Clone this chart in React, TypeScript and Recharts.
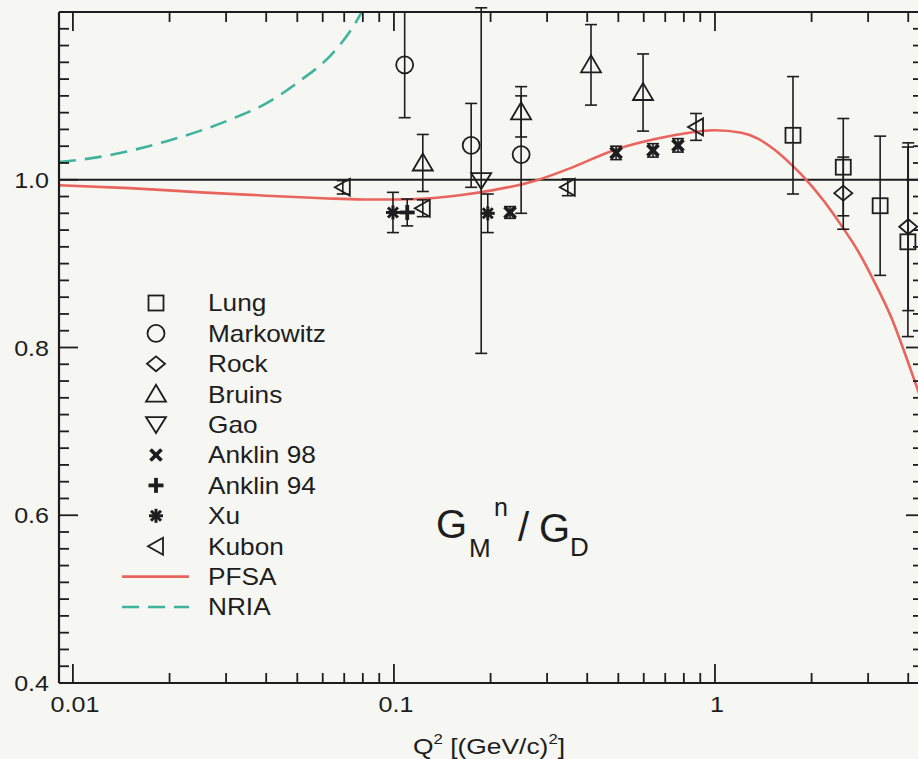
import React from 'react';
import {
  ComposedChart,
  Scatter,
  Line,
  XAxis,
  YAxis,
  ErrorBar,
  ReferenceLine,
  Legend,
  Customized,
} from 'recharts';

type Pt = { q2: number; g: number; err?: number };

// ---- measurements of G_M^n / G_D (Q^2 in (GeV/c)^2) ----
const lung: Pt[] = [
  { q2: 1.75, g: 1.053, err: 0.07 },
  { q2: 2.51, g: 1.015, err: 0.058 },
  { q2: 3.27, g: 0.969, err: 0.083 },
  { q2: 3.99, g: 0.926, err: 0.113 },
];
const markowitz: Pt[] = [
  { q2: 0.108, g: 1.137, err: 0.063 },
  { q2: 0.174, g: 1.041, err: 0.05 },
  { q2: 0.249, g: 1.03, err: 0.07 },
];
const rock: Pt[] = [
  { q2: 2.51, g: 0.984, err: 0.043 },
  { q2: 4.0, g: 0.944, err: 0.1 },
];
const bruins: Pt[] = [
  { q2: 0.123, g: 1.02, err: 0.034 },
  { q2: 0.249, g: 1.081, err: 0.03 },
  { q2: 0.411, g: 1.137, err: 0.048 },
  { q2: 0.597, g: 1.104, err: 0.046 },
];
const gao: Pt[] = [{ q2: 0.187, g: 0.999, err: 0.206 }];
const anklin98: Pt[] = [
  { q2: 0.23, g: 0.961, err: 0.007 },
  { q2: 0.492, g: 1.032, err: 0.008 },
  { q2: 0.641, g: 1.035, err: 0.008 },
  { q2: 0.767, g: 1.041, err: 0.008 },
];
const anklin94: Pt[] = [{ q2: 0.11, g: 0.961, err: 0.016 }];
const xu: Pt[] = [
  { q2: 0.0993, g: 0.961, err: 0.024 },
  { q2: 0.196, g: 0.96, err: 0.023 },
];
const kubon: Pt[] = [
  { q2: 0.0693, g: 0.991, err: 0.008 },
  { q2: 0.123, g: 0.966, err: 0.01 },
  { q2: 0.348, g: 0.991, err: 0.01 },
  { q2: 0.873, g: 1.063, err: 0.016 },
];

// ---- model curves ----
const pfsa: Pt[] = [
  { q2: 0.00905, g: 0.9935 },
  { q2: 0.015, g: 0.99 },
  { q2: 0.025, g: 0.985 },
  { q2: 0.04, g: 0.981 },
  { q2: 0.06, g: 0.978 },
  { q2: 0.08, g: 0.9765 },
  { q2: 0.1, g: 0.9765 },
  { q2: 0.13, g: 0.978 },
  { q2: 0.16, g: 0.9815 },
  { q2: 0.2, g: 0.987 },
  { q2: 0.274, g: 0.9985 },
  { q2: 0.35, g: 1.013 },
  { q2: 0.499, g: 1.037 },
  { q2: 0.641, g: 1.048 },
  { q2: 0.767, g: 1.054 },
  { q2: 1.0, g: 1.059 },
  { q2: 1.21, g: 1.056 },
  { q2: 1.36, g: 1.049 },
  { q2: 1.53, g: 1.036 },
  { q2: 1.73, g: 1.018 },
  { q2: 1.86, g: 1.006 },
  { q2: 2.19, g: 0.974 },
  { q2: 2.48, g: 0.945 },
  { q2: 2.79, g: 0.915 },
  { q2: 3.14, g: 0.878 },
  { q2: 3.54, g: 0.836 },
  { q2: 3.99, g: 0.783 },
  { q2: 4.4, g: 0.737 },
];
const nria: Pt[] = [
  { q2: 0.00905, g: 1.021 },
  { q2: 0.012, g: 1.027 },
  { q2: 0.0196, g: 1.046 },
  { q2: 0.0315, g: 1.073 },
  { q2: 0.04, g: 1.091 },
  { q2: 0.051, g: 1.118 },
  { q2: 0.0645, g: 1.151 },
  { q2: 0.0745, g: 1.182 },
  { q2: 0.085, g: 1.222 },
];

// ---- axes ----
const X_DOMAIN: [number, number] = [0.00905, 4.352];
const Y_DOMAIN: [number, number] = [0.4, 1.2];
const X_MAJOR = [0.01, 0.1, 1];
const X_MINOR = [
  0.02, 0.03, 0.04, 0.05, 0.06, 0.07, 0.08, 0.09,
  0.2, 0.3, 0.4, 0.5, 0.6, 0.7, 0.8, 0.9,
  2, 3, 4,
];
const X_LABELS = ['0.01', '0.1', '1'];
const Y_MAJOR = [0.4, 0.6, 0.8, 1.0, 1.2];
const Y_LABELS = ['0.4', '0.6', '0.8', '1.0'];
const Y_MINOR = [
  0.42, 0.44, 0.46, 0.48, 0.5, 0.52, 0.54, 0.56, 0.58,
  0.62, 0.64, 0.66, 0.68, 0.7, 0.72, 0.74, 0.76, 0.78,
  0.82, 0.84, 0.86, 0.88, 0.9, 0.92, 0.94, 0.96, 0.98,
  1.02, 1.04, 1.06, 1.08, 1.1, 1.12, 1.14, 1.16, 1.18,
];
const X_TICKS = [...X_MAJOR, ...X_MINOR].sort((a, b) => a - b);
const Y_TICKS = [...Y_MAJOR, ...Y_MINOR].sort((a, b) => a - b);

const FONT = '"Liberation Sans", Arial, Helvetica, sans-serif';
const INK = '#1d1d1d';
const PAPER = '#f6f6f3';
const PFSA_COLOR = '#e9645c';
const NRIA_COLOR = '#3fb49c';
const STRETCH = 1.14;

const MAJOR_LEN = 19;
const MINOR_LEN = 10;

// Horizontally widened text, anchored at (x, y)
const SText = ({
  x,
  y,
  size = 22,
  anchor = 'start',
  sx = STRETCH,
  children,
}: {
  x: number;
  y: number;
  size?: number;
  anchor?: 'start' | 'middle' | 'end';
  sx?: number;
  children: React.ReactNode;
}) => (
  <text
    x={0}
    y={0}
    transform={`translate(${x} ${y}) scale(${sx} 1)`}
    textAnchor={anchor}
    fontSize={size}
    fontFamily={FONT}
    fill={INK}
  >
    {children}
  </text>
);

// ---- inward tick marks with labels ----
const BottomTick = (props: any) => {
  const { x, y, payload } = props;
  const i = X_MAJOR.indexOf(payload.value);
  const len = i >= 0 ? MAJOR_LEN : MINOR_LEN;
  return (
    <g>
      <line x1={x} x2={x} y1={y} y2={y - len} stroke={INK} strokeWidth={1.8} />
      {i >= 0 && (
        <SText x={x + 2} y={y + 29} anchor="middle">
          {X_LABELS[i]}
        </SText>
      )}
    </g>
  );
};

const TopTick = (props: any) => {
  const { x, y, payload } = props;
  const len = X_MAJOR.includes(payload.value) ? MAJOR_LEN : MINOR_LEN;
  return <line x1={x} x2={x} y1={y} y2={y + len} stroke={INK} strokeWidth={1.8} />;
};

const LeftTick = (props: any) => {
  const { x, y, payload } = props;
  const major = Y_MAJOR.indexOf(payload.value);
  const len = major >= 0 ? MAJOR_LEN : MINOR_LEN;
  const label = major >= 0 && major < Y_LABELS.length ? Y_LABELS[major] : null;
  return (
    <g>
      <line x1={x} x2={x + len} y1={y} y2={y} stroke={INK} strokeWidth={1.8} />
      {label && (
        <SText x={x - 10} y={y + 8} anchor="end">
          {label}
        </SText>
      )}
    </g>
  );
};

const RightTick = (props: any) => {
  const { x, y, payload } = props;
  const len = Y_MAJOR.includes(payload.value) ? 14 : 7;
  return <line x1={x} x2={x - len} y1={y} y2={y} stroke={INK} strokeWidth={1.8} />;
};

// ---- marker shapes ----
const SW = 1.8;
type MP = { cx?: number; cy?: number };
const SquareMark = ({ cx = 0, cy = 0 }: MP) => (
  <rect x={cx - 7.5} y={cy - 7.5} width={15} height={15} fill="none" stroke={INK} strokeWidth={SW} />
);
const CircleMark = ({ cx = 0, cy = 0 }: MP) => (
  <circle cx={cx} cy={cy} r={8.5} fill="none" stroke={INK} strokeWidth={SW} />
);
const DiamondMark = ({ cx = 0, cy = 0 }: MP) => (
  <polygon
    points={`${cx - 9},${cy} ${cx},${cy - 7.5} ${cx + 9},${cy} ${cx},${cy + 7.5}`}
    fill="none"
    stroke={INK}
    strokeWidth={SW}
  />
);
const TriUpMark = ({ cx = 0, cy = 0 }: MP) => (
  <polygon
    points={`${cx - 10},${cy + 7.5} ${cx},${cy - 9.5} ${cx + 10},${cy + 7.5}`}
    fill="none"
    stroke={INK}
    strokeWidth={SW}
  />
);
const TriDownMark = ({ cx = 0, cy = 0 }: MP) => (
  <polygon
    points={`${cx - 10},${cy - 7.5} ${cx + 10},${cy - 7.5} ${cx},${cy + 8.5}`}
    fill="none"
    stroke={INK}
    strokeWidth={SW}
  />
);
const TriLeftMark = ({ cx = 0, cy = 0 }: MP) => (
  <polygon
    points={`${cx + 7},${cy - 8.5} ${cx + 7},${cy + 8.5} ${cx - 8},${cy}`}
    fill="none"
    stroke={INK}
    strokeWidth={SW}
  />
);
const CrossMark = ({ cx = 0, cy = 0 }: MP) => (
  <g stroke={INK} strokeWidth={3.8}>
    <line x1={cx - 5.5} y1={cy - 5.5} x2={cx + 5.5} y2={cy + 5.5} />
    <line x1={cx - 5.5} y1={cy + 5.5} x2={cx + 5.5} y2={cy - 5.5} />
  </g>
);
const PlusMark = ({ cx = 0, cy = 0 }: MP) => (
  <g stroke={INK} strokeWidth={3.8}>
    <line x1={cx - 7.5} y1={cy} x2={cx + 7.5} y2={cy} />
    <line x1={cx} y1={cy - 7.5} x2={cx} y2={cy + 7.5} />
  </g>
);
const StarMark = ({ cx = 0, cy = 0 }: MP) => (
  <g stroke={INK} strokeWidth={3}>
    <line x1={cx - 7} y1={cy} x2={cx + 7} y2={cy} />
    <line x1={cx} y1={cy - 7} x2={cx} y2={cy + 7} />
    <line x1={cx - 5} y1={cy - 5} x2={cx + 5} y2={cy + 5} />
    <line x1={cx - 5} y1={cy + 5} x2={cx + 5} y2={cy - 5} />
  </g>
);

type SeriesDef = { name: string; data: Pt[]; Mark: (p: MP) => React.ReactElement };
const SERIES: SeriesDef[] = [
  { name: 'Lung', data: lung, Mark: SquareMark },
  { name: 'Markowitz', data: markowitz, Mark: CircleMark },
  { name: 'Rock', data: rock, Mark: DiamondMark },
  { name: 'Bruins', data: bruins, Mark: TriUpMark },
  { name: 'Gao', data: gao, Mark: TriDownMark },
  { name: 'Anklin 98', data: anklin98, Mark: CrossMark },
  { name: 'Anklin 94', data: anklin94, Mark: PlusMark },
  { name: 'Xu', data: xu, Mark: StarMark },
  { name: 'Kubon', data: kubon, Mark: TriLeftMark },
];

// ---- legend ----
const LegendBox = () => {
  const rowH = 30.4;
  const y0 = 18;
  return (
    <svg width={260} height={340} style={{ display: 'block', overflow: 'visible' }}>
      {SERIES.map((s, i) => (
        <g key={s.name}>
          <s.Mark cx={46} cy={y0 + i * rowH} />
          <SText x={98} y={y0 + i * rowH + 8.4} size={23}>
            {s.name}
          </SText>
        </g>
      ))}
      <line x1={12} x2={79} y1={y0 + 9 * rowH} y2={y0 + 9 * rowH} stroke={PFSA_COLOR} strokeWidth={2.6} />
      <SText x={98} y={y0 + 9 * rowH + 8.4} size={23}>
        PFSA
      </SText>
      <line
        x1={12}
        x2={79}
        y1={y0 + 10 * rowH}
        y2={y0 + 10 * rowH}
        stroke={NRIA_COLOR}
        strokeWidth={2.6}
        strokeDasharray="17 9"
      />
      <SText x={98} y={y0 + 10 * rowH + 8.4} size={23}>
        NRIA
      </SText>
    </svg>
  );
};

// ---- in-plot label and x-axis title ----
const Annotations = () => (
  <g fontFamily={FONT} fill={INK}>
    <text x={436} y={538} fontSize={40}>G</text>
    <text x={469} y={557} fontSize={26}>M</text>
    <text x={494} y={516} fontSize={25}>n</text>
    <text x={518} y={541} fontSize={40}>/</text>
    <text x={539} y={542} fontSize={40}>G</text>
    <text x={570} y={556} fontSize={26}>D</text>
    <text x={0} y={0} transform="translate(413 754) scale(1.2 1)" fontSize={22}>
      Q
      <tspan dy={-10} fontSize={14}>2</tspan>
      <tspan dy={10}> [(GeV/c)</tspan>
      <tspan dy={-10} fontSize={14}>2</tspan>
      <tspan dy={10}>]</tspan>
    </text>
  </g>
);

export default function App() {
  return (
    <div
      style={{
        position: 'absolute',
        left: 0,
        top: 0,
        width: 918,
        height: 759,
        overflow: 'hidden',
        background: PAPER,
      }}
    >
      <ComposedChart width={921} height={759} margin={{ top: 12, right: 1, bottom: 0, left: 0 }}>
        <XAxis
          xAxisId="x"
          dataKey="q2"
          type="number"
          scale="log"
          domain={X_DOMAIN}
          allowDataOverflow
          ticks={X_TICKS}
          interval={0}
          tick={BottomTick}
          tickLine={false}
          tickSize={0}
          tickMargin={0}
          height={76}
          axisLine={{ stroke: INK, strokeWidth: 2.2 }}
        />
        <XAxis
          xAxisId="top"
          orientation="top"
          mirror
          dataKey="q2"
          type="number"
          scale="log"
          domain={X_DOMAIN}
          allowDataOverflow
          ticks={X_TICKS}
          interval={0}
          tick={TopTick}
          tickLine={false}
          tickSize={0}
          tickMargin={0}
          axisLine={{ stroke: INK, strokeWidth: 2.2 }}
        />
        <YAxis
          yAxisId="y"
          dataKey="g"
          type="number"
          domain={Y_DOMAIN}
          allowDataOverflow
          ticks={Y_TICKS}
          interval={0}
          tick={LeftTick}
          tickLine={false}
          tickSize={0}
          tickMargin={0}
          width={59}
          axisLine={{ stroke: INK, strokeWidth: 2.2 }}
        />
        <YAxis
          yAxisId="right"
          orientation="right"
          mirror
          dataKey="g"
          type="number"
          domain={Y_DOMAIN}
          allowDataOverflow
          ticks={Y_TICKS}
          interval={0}
          tick={RightTick}
          tickLine={false}
          tickSize={0}
          tickMargin={0}
          axisLine={{ stroke: INK, strokeWidth: 2.2 }}
        />

        <ReferenceLine xAxisId="x" yAxisId="y" y={1} stroke={INK} strokeWidth={1.8} />

        <Line
          xAxisId="x"
          yAxisId="y"
          name="NRIA"
          data={nria}
          dataKey="g"
          type="monotone"
          stroke={NRIA_COLOR}
          strokeWidth={2.6}
          strokeDasharray="17 9"
          dot={false}
          activeDot={false}
          isAnimationActive={false}
        />
        <Line
          xAxisId="x"
          yAxisId="y"
          name="PFSA"
          data={pfsa}
          dataKey="g"
          type="monotone"
          stroke={PFSA_COLOR}
          strokeWidth={2.6}
          dot={false}
          activeDot={false}
          isAnimationActive={false}
        />

        {SERIES.map((s) => (
          <Scatter
            key={s.name}
            xAxisId="x"
            yAxisId="y"
            name={s.name}
            data={s.data}
            dataKey="g"
            shape={(p: any) => <s.Mark cx={p.cx} cy={p.cy} />}
            isAnimationActive={false}
          >
            <ErrorBar dataKey="err" direction="y" width={6} stroke={INK} strokeWidth={1.6} />
          </Scatter>
        ))}

        <Customized component={Annotations} />

        <Legend
          layout="vertical"
          align="center"
          verticalAlign="middle"
          content={() => <LegendBox />}
          wrapperStyle={{ left: 110, top: 285, width: 260, height: 340 }}
        />
      </ComposedChart>
    </div>
  );
}
